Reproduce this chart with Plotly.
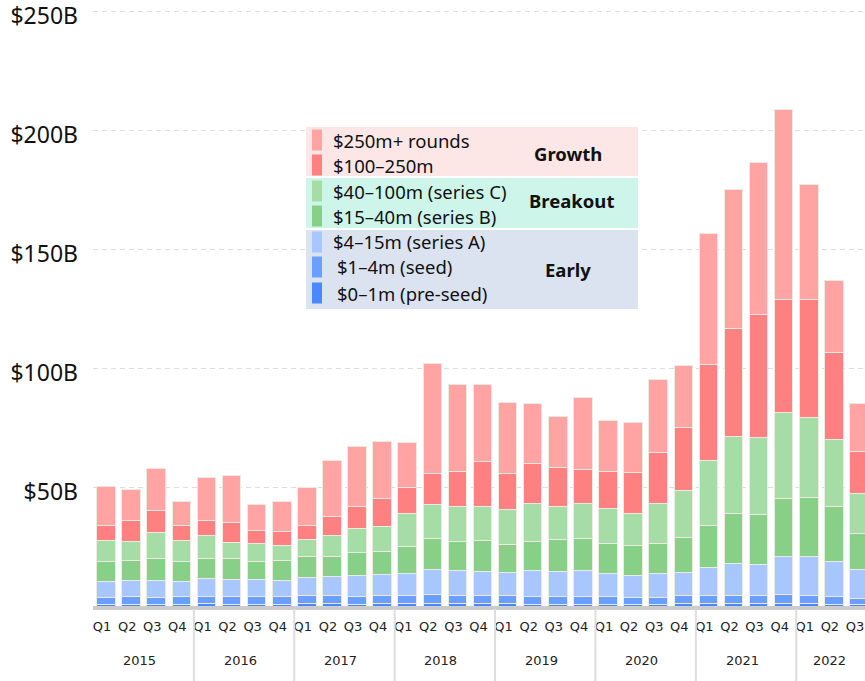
import plotly.graph_objects as go

# ---------------- data (US$ billions, per quarter) ----------------
years = ["2015", "2016", "2017", "2018", "2019", "2020", "2021", "2022"]
quarters_per_year = [4, 4, 4, 4, 4, 4, 4, 3]
quarter_names = ["Q1", "Q2", "Q3", "Q4"]

pre_seed = [0.7, 0.8, 0.7, 0.8, 0.9, 0.8, 0.8, 0.8, 0.9, 0.9, 0.8, 0.9,
            1.0, 1.0, 0.9, 0.9, 0.9, 0.8, 0.8, 0.8, 0.8, 0.7, 0.7, 0.9,
            0.9, 1.0, 0.9, 1.0, 0.9, 0.8, 0.6]
seed = [2.8, 3.0, 2.8, 3.0, 3.3, 3.1, 3.0, 3.1, 3.7, 3.4, 3.1, 3.4,
        3.6, 3.9, 3.4, 3.4, 3.4, 3.1, 3.1, 3.1, 3.1, 2.8, 2.8, 3.4,
        3.4, 3.6, 3.4, 3.9, 3.7, 3.1, 2.6]
series_a = [6.7, 7.0, 7.3, 6.7, 7.4, 7.4, 7.5, 7.0, 7.3, 8.3, 9.1, 9.0,
            9.1, 10.5, 10.8, 10.4, 9.9, 10.9, 10.5, 10.9, 9.8, 9.5, 10.2, 9.9,
            12.0, 13.3, 13.3, 15.8, 16.4, 15.0, 12.2]
series_b = [8.7, 8.2, 9.2, 8.1, 8.4, 8.7, 7.3, 8.1, 9.1, 8.4, 9.6, 9.5,
            11.2, 13.0, 12.2, 13.0, 11.7, 12.5, 13.6, 13.6, 12.6, 12.3, 12.6, 14.5,
            17.7, 21.0, 20.9, 24.5, 24.7, 23.1, 15.1]
series_c = [8.8, 8.3, 10.8, 9.0, 9.8, 6.8, 7.6, 6.3, 7.0, 8.5, 10.0, 10.8,
            13.8, 14.3, 14.4, 14.3, 14.7, 15.6, 14.0, 14.5, 14.7, 13.6, 16.8, 19.8,
            27.3, 32.2, 32.4, 36.2, 33.4, 28.0, 16.6]
growth_100_250 = [6.3, 8.5, 9.3, 6.4, 6.0, 8.2, 5.6, 6.2, 6.0, 8.0, 9.1, 11.6,
                  11.2, 12.8, 14.7, 18.9, 14.9, 16.8, 16.4, 14.5, 15.4, 17.1, 21.5, 26.6,
                  40.0, 45.3, 51.6, 47.2, 49.5, 36.4, 17.7]
growth_250_plus = [16.1, 13.2, 17.5, 10.1, 18.0, 20.0, 10.9, 12.6, 15.7, 23.8, 25.2, 24.1,
                   18.7, 46.5, 36.7, 32.2, 29.9, 25.2, 21.4, 30.1, 21.5, 21.2, 30.7, 25.9,
                   55.3, 58.4, 63.9, 80.1, 48.7, 30.2, 20.4]

series_names = ["$0–1m (pre-seed)", "$1–4m (seed)", "$4–15m (series A)",
                "$15–40m (series B)", "$40–100m (series C)", "$100–250m",
                "$250m+ rounds"]
series_values = [pre_seed, seed, series_a, series_b, series_c,
                 growth_100_250, growth_250_plus]
series_colors = ["#4A88FF", "#6B9FFF", "#A8C6FF", "#88CF88", "#A6DCA6",
                 "#FF8080", "#FFA3A3"]

group_names = ["Growth", "Breakout", "Early"]

y_tick_values = [50, 100, 150, 200, 250]
y_tick_labels = ["$50B", "$100B", "$150B", "$200B", "$250B"]

# ---------------- build x categories ----------------
x_keys, x_quarter_text, year_spans = [], [], []
i = 0
for yr, n in zip(years, quarters_per_year):
    year_spans.append((yr, i, i + n - 1))
    for q in quarter_names[:n]:
        x_keys.append(yr + " " + q)
        x_quarter_text.append(q)
        i += 1

fig = go.Figure()
for name, vals, col in zip(series_names, series_values, series_colors):
    fig.add_trace(go.Bar(
        x=x_keys, y=vals, name=name,
        marker=dict(color=col, line=dict(color="#ECEAE2", width=1)),
        showlegend=False, hoverinfo="skip"))

# ---------------- layout geometry ----------------
W, H = 865, 681
ML, MR, MT, MB = 93, 0, 0, 75
PW, PH = W - ML - MR, H - MT - MB


def px_x(px):
    return (px - ML) / PW


def px_y(py):
    return (MT + PH - py) / PH


shapes = []
annotations = []

# year labels and year dividers on the x axis
for k, (yr, i0, i1) in enumerate(year_spans):
    annotations.append(dict(xref="x", yref="paper", x=(i0 + i1) / 2, y=px_y(660),
                            xanchor="center", yanchor="middle", showarrow=False,
                            text=yr, xshift=-4,
                            font=dict(family="DejaVu Sans", size=13, color="#222")))
    if k > 0:
        shapes.append(dict(type="line", xref="x", yref="paper",
                           x0=i0 - 0.5, x1=i0 - 0.5, y0=px_y(609), y1=px_y(681),
                           line=dict(color="#DDDDDD", width=2)))

# legend group backgrounds
group_boxes = [(127, 176, "#FDE6E6"), (178, 228, "#CEF5E9"), (230, 309, "#DCE3F0")]
for (y0, y1, c) in group_boxes:
    shapes.append(dict(type="rect", xref="paper", yref="paper", layer="above",
                       x0=px_x(306), x1=px_x(638), y0=px_y(y1), y1=px_y(y0),
                       fillcolor=c, line=dict(width=0)))

# legend entries (top to bottom)
legend_order = [6, 5, 4, 3, 2, 1, 0]
entry_centers = [140, 165, 191, 216, 242, 267, 293]
text_x = [331, 331, 331, 331, 331, 335, 335]
for idx, yc, tx in zip(legend_order, entry_centers, text_x):
    shapes.append(dict(type="rect", xref="paper", yref="paper", layer="above",
                       x0=px_x(312), x1=px_x(322), y0=px_y(yc + 10.5),
                       y1=px_y(yc - 10.5), fillcolor=series_colors[idx],
                       line=dict(width=0)))
    annotations.append(dict(xref="paper", yref="paper", x=px_x(tx), y=px_y(yc),
                            xanchor="left", yanchor="middle", showarrow=False,
                            text=series_names[idx],
                            font=dict(family="Noto Sans", size=18.5, color="#111")))

group_centers = [(568, 153), (571, 201), (568, 270)]
for gname, (gx, gy) in zip(group_names, group_centers):
    annotations.append(dict(xref="paper", yref="paper", x=px_x(gx), y=px_y(gy),
                            xanchor="center", yanchor="middle", showarrow=False,
                            text="<b>" + gname + "</b>",
                            font=dict(family="Noto Sans", size=18.5, color="#111")))

y_top = PH / 2.38

fig.update_layout(
    width=W, height=H,
    margin=dict(l=ML, r=MR, t=MT, b=MB, pad=0),
    paper_bgcolor="white", plot_bgcolor="white",
    barmode="stack", bargap=0.26,
    shapes=shapes, annotations=annotations,
    showlegend=False,
    xaxis=dict(
        type="category",
        categoryorder="array", categoryarray=x_keys,
        tickvals=x_keys, ticktext=x_quarter_text,
        range=[-0.52, 30.24],
        showline=True, linecolor="#CCCCCC", linewidth=4,
        showgrid=False, ticks="", tickangle=0,
        tickfont=dict(family="DejaVu Sans", size=13, color="#222"),
        ticklabelstandoff=5, ticklabelshift=-4,
        automargin=False,
    ),
    yaxis=dict(
        range=[0, y_top],
        tickvals=y_tick_values, ticktext=y_tick_labels,
        tickfont=dict(family="Noto Sans", size=23, color="#111"),
        showgrid=True, gridcolor="#DDDDDD", gridwidth=1, griddash="5px,4px",
        zeroline=False, showline=False, ticks="",
        ticklabelstandoff=14, ticklabelshift=5, ticklabeloverflow="allow",
        automargin=False,
    ),
)

fig.write_html("out.html",
               config={"displayModeBar": False},
               post_script="document.body.style.margin='0';document.body.style.overflow='hidden';")
